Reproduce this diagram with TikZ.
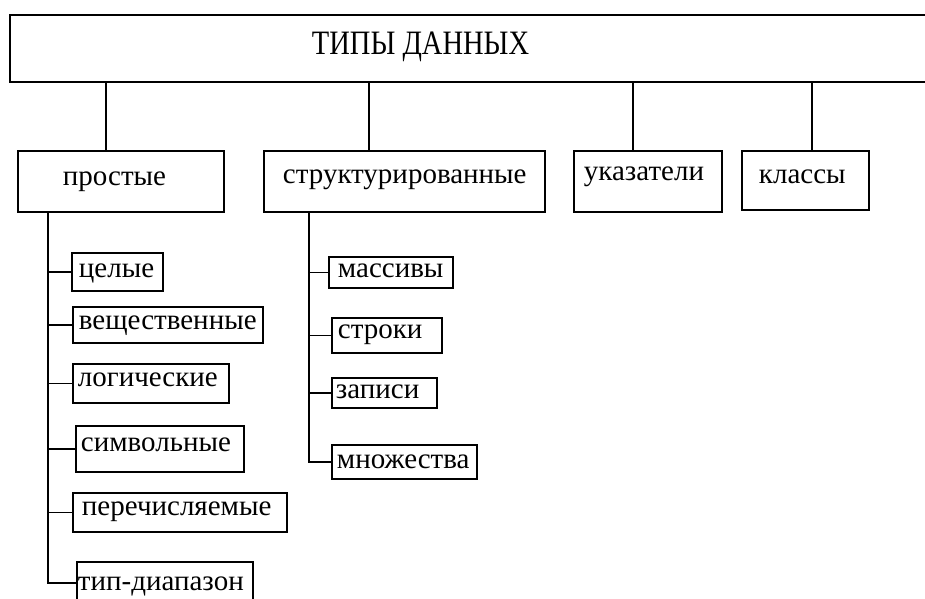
\documentclass[tikz,border=0pt]{standalone}
\usepackage{fontspec}
\setmainfont{Liberation Serif}
\begin{document}
\begin{tikzpicture}[x=1pt,y=-1pt,line width=1.9pt,
  box/.style={draw,inner sep=0pt},
  lbl/.style={inner sep=0pt,anchor=base west,font=\fontsize{29}{31}\selectfont},
  conn/.style={draw,line width=1.9pt}]
\useasboundingbox (0,0) rectangle (925,598);
\clip (0,0) rectangle (925,598);
\fill[white] (0,0) rectangle (925,598);
% boxes
\node[box,minimum width=930pt,minimum height=67pt] (top) at (475,48.5) {};
\node[box,minimum width=206pt,minimum height=61pt] (simple) at (121,181.5) {};
\node[box,minimum width=281pt,minimum height=61pt] (struct) at (404.5,181.5) {};
\node[box,minimum width=148pt,minimum height=61pt] (ptr) at (648,181.5) {};
\node[box,minimum width=127pt,minimum height=59pt] (cls) at (805.5,180.5) {};
\node[box,minimum width=91pt,minimum height=38pt] (celye) at (117.5,272) {};
\node[box,minimum width=190pt,minimum height=36pt] (vesch) at (168,325) {};
\node[box,minimum width=156pt,minimum height=39pt] (logic) at (151,383.5) {};
\node[box,minimum width=168pt,minimum height=46pt] (simv) at (160,449) {};
\node[box,minimum width=214pt,minimum height=39pt] (perech) at (180,512.5) {};
\node[box,minimum width=176pt,minimum height=42pt] (tipd) at (165,583) {};
\node[box,minimum width=124pt,minimum height=31pt] (mass) at (391,272.5) {};
\node[box,minimum width=110pt,minimum height=35pt] (stroki) at (387,335.5) {};
\node[box,minimum width=105pt,minimum height=30pt] (zap) at (384.5,393) {};
\node[box,minimum width=145pt,minimum height=34pt] (mnozh) at (404.5,462) {};
% texts
\node[inner sep=0pt,anchor=base west,font=\fontsize{28.5}{30}\selectfont] (title) at (311,54) {\scalebox{1}[1.2]{ТИПЫ ДАННЫХ}};
\node[lbl] (tsimple) at (62,185) {простые};
\node[lbl] (tstruct) at (282,183) {структурированные};
\node[lbl] (tptr) at (583,180) {указатели};
\node[lbl] (tcls) at (758,183) {классы};
\node[lbl] (tcelye) at (78,277) {целые};
\node[lbl] (tvesch) at (78,329) {вещественные};
\node[lbl] (tlogic) at (77,386) {логические};
\node[lbl] (tsimv) at (80,451) {символьные};
\node[lbl] (tperech) at (81,515) {перечисляемые};
\node[lbl] (ttipd) at (77,590) {тип-диапазон};
\node[lbl] (tmass) at (337,277) {массивы};
\node[lbl] (tstroki) at (337,338) {строки};
\node[lbl] (tzap) at (335,398) {записи};
\node[lbl] (tmnozh) at (336,468) {множества};
% top connectors
\draw[conn] ([xshift=-15pt]simple.north) -- ([xshift=-15pt]simple.north |- top.south);
\draw[conn] ([xshift=-35.5pt]struct.north) -- ([xshift=-35.5pt]struct.north |- top.south);
\draw[conn] ([xshift=-15pt]ptr.north) -- ([xshift=-15pt]ptr.north |- top.south);
\draw[conn] ([xshift=6.5pt]cls.north) -- ([xshift=6.5pt]cls.north |- top.south);
% trunks
\coordinate (lt) at ([xshift=31pt]simple.south west);
\coordinate (rt) at ([xshift=46pt]struct.south west);
\foreach \n in {celye,vesch,logic,simv,perech,tipd} \draw[conn] (lt) |- (\n.west);
\foreach \n in {mass,stroki,zap,mnozh} \draw[conn] (rt) |- (\n.west);
\end{tikzpicture}
\end{document}
